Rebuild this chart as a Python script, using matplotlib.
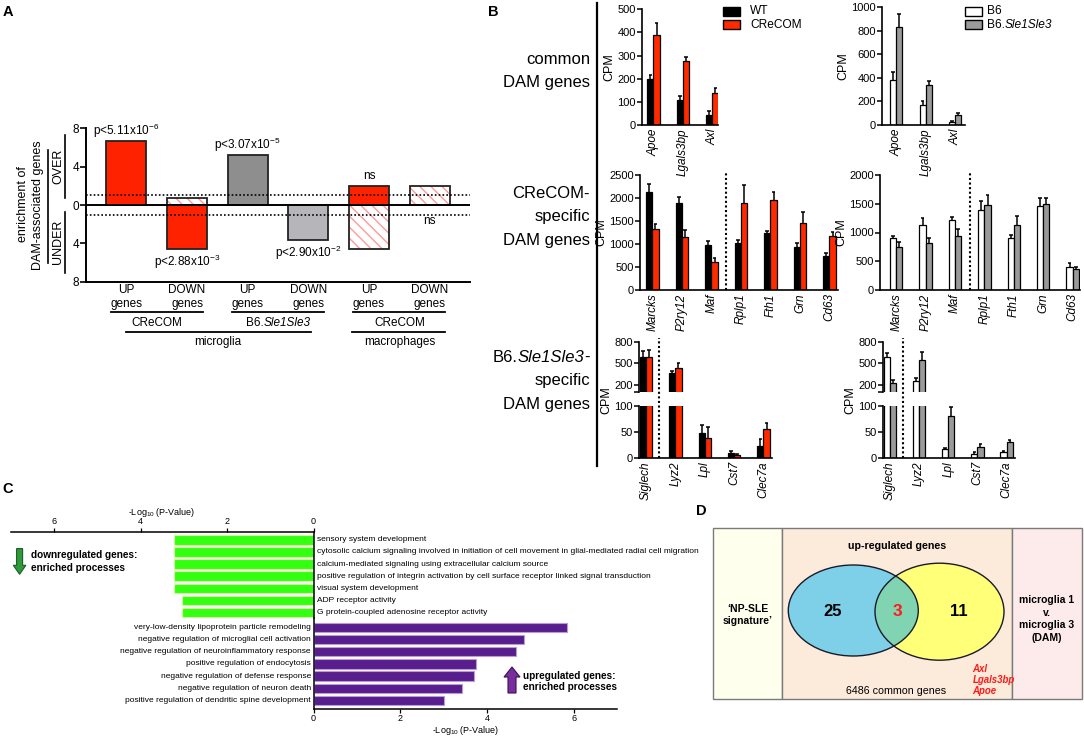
import numpy as np
import matplotlib
matplotlib.use('Agg')
import matplotlib.pyplot as plt
from matplotlib.patches import Rectangle, Ellipse, FancyArrow

plt.rcParams['font.family'] = ['Liberation Sans', 'DejaVu Sans']
plt.rcParams['mathtext.fontset'] = 'custom'
plt.rcParams['mathtext.rm'] = 'Liberation Sans'
plt.rcParams['mathtext.it'] = 'Liberation Sans:italic'
plt.rcParams['mathtext.bf'] = 'Liberation Sans:bold'
plt.rcParams['hatch.linewidth'] = 1.0
plt.rcParams['axes.facecolor'] = 'none'

# ---------------- DATA ----------------
# Panel A
cats_A = ['UP', 'DOWN', 'UP', 'DOWN', 'UP', 'DOWN']
over_A = [6.7, 0.7, 5.2, 0.0, 2.0, 2.0]
under_A = [0.0, 4.6, 0.0, 3.65, 4.6, 0.0]
over_fill_A = ['red', 'hatch', 'dark', None, 'red', 'hatch']
under_fill_A = [None, 'red', None, 'light', 'hatch', None]
pvals_A = ['p<5.11x10$^{-6}$', 'p<2.88x10$^{-3}$', 'p<3.07x10$^{-5}$',
           'p<2.90x10$^{-2}$', 'ns', 'ns']
p_side_A = ['over', 'under', 'over', 'under', 'over', 'under']
strain_A = [[('CReCOM', 'normal')],
            [('B6.', 'normal'), ('Sle1Sle3', 'italic')],
            [('CReCOM', 'normal')]]
cell_A = ['microglia', 'macrophages']
threshold_A = 1.0
yticks_A = [-8, -4, 0, 4, 8]

# Panel B
series_left = [[('WT', 'normal')], [('CReCOM', 'normal')]]
series_right = [[('B6', 'normal')], [('B6.', 'normal'), ('Sle1Sle3', 'italic')]]

genes_common = ['Apoe', 'Lgals3bp', 'Axl']
wt_common = [200, 108, 43]
wt_common_err = [15, 17, 18]
cr_common = [387, 276, 140]
cr_common_err = [52, 20, 18]
b6_common = [382, 170, 25]
b6_common_err = [70, 30, 6]
sle_common = [830, 340, 82]
sle_common_err = [110, 35, 18]

genes_cre = ['Marcks', 'P2ry12', 'Maf', 'Rplp1', 'Fth1', 'Grn', 'Cd63']
wt_cre = [2123, 1898, 978, 1029, 1239, 942, 746]
wt_cre_err = [175, 124, 80, 58, 50, 87, 51]
cr_cre = [1326, 1159, 601, 1898, 1964, 1456, 1170]
cr_cre_err = [116, 150, 95, 384, 174, 246, 90]
b6_cre = [896, 1127, 1225, 1387, 896, 1457, 405]
b6_cre_err = [36, 127, 47, 156, 58, 144, 69]
sle_cre = [751, 809, 936, 1474, 1139, 1503, 364]
sle_cre_err = [87, 87, 122, 185, 144, 98, 29]

genes_sle = ['Siglech', 'Lyz2', 'Lpl', 'Cst7', 'Clec7a']
wt_sle = [592, 362, 47, 8.5, 23]
wt_sle_err = [85, 32, 16, 5, 13]
cr_sle = [584, 440, 38, 6, 55]
cr_sle_err = [105, 65, 22, 2, 11]
b6_sle = [592, 260, 16, 8, 11]
b6_sle_err = [55, 33, 3, 3, 1]
sle_sle = [232, 550, 81, 20, 30]
sle_sle_err = [37, 106, 17, 6, 5]

row_labels_B = [[[('common', 'normal')], [('DAM genes', 'normal')]],
                [[('CReCOM-', 'normal')], [('specific', 'normal')], [('DAM genes', 'normal')]],
                [[('B6.', 'normal'), ('Sle1Sle3', 'italic'), ('-', 'normal')],
                 [('specific', 'normal')], [('DAM genes', 'normal')]]]

# Panel C
down_terms = ['sensory system development',
              'cytosolic calcium signaling involved in initiation of cell movement in glial-mediated radial cell migration',
              'calcium-mediated signaling using extracellular calcium source',
              'positive regulation of integrin activation by cell surface receptor linked signal transduction',
              'visual system development',
              'ADP receptor activity',
              'G protein-coupled adenosine receptor activity']
down_vals = [3.22, 3.22, 3.22, 3.22, 3.22, 3.05, 3.05]
up_terms = ['very-low-density lipoprotein particle remodeling',
            'negative regulation of microglial cell activation',
            'negative regulation of neuroinflammatory response',
            'positive regulation of endocytosis',
            'negative regulation of defense response',
            'negative regulation of neuron death',
            'positive regulation of dendritic spine development']
up_vals = [5.85, 4.85, 4.68, 3.74, 3.71, 3.42, 3.02]

# Panel D
venn_counts = [25, 3, 11]
shared_genes = ['Axl', 'Lgals3bp', 'Apoe']
common_total = 6486

# ---------------- FIGURE ----------------
W, H = 1084, 738
fig = plt.figure(figsize=(W / 100, H / 100), dpi=100)
fig.patch.set_facecolor('white')
renderer = fig.canvas.get_renderer()


def axpx(x0, y0, x1, y1):
    return fig.add_axes([x0 / W, 1 - y1 / H, (x1 - x0) / W, (y1 - y0) / H])


RED_A = '#FF2200'
RED = '#FF2A00'
GREY = '#9A9A9A'
HATCH_RED = '#FF9A9A'

# ---------------- Panel A ----------------
axA = axpx(86, 128.3, 470, 281.7)
xA = np.arange(len(cats_A))
wA = 0.66
fills = {'red': RED_A, 'dark': '#8E8E8E', 'light': '#B6B6BA'}


def barA(i, v, style):
    if style == 'hatch':
        axA.bar(i, v, wA, color='white', edgecolor=HATCH_RED, hatch='\\\\\\', lw=0, zorder=2)
        axA.bar(i, v, wA, fill=False, edgecolor='#222222', lw=1.3, zorder=3)
    else:
        axA.bar(i, v, wA, color=fills[style], edgecolor='#222222', lw=1.3, zorder=2)


for i in xA:
    if over_A[i] > 0:
        barA(i, over_A[i], over_fill_A[i])
    if under_A[i] > 0:
        barA(i, -under_A[i], under_fill_A[i])
    if p_side_A[i] == 'over':
        axA.annotate(pvals_A[i], (i, over_A[i]), xytext=(0, 10), textcoords='offset pixels',
                     ha='center', va='center', fontsize=8.5)
    else:
        off = -13 if under_A[i] > 0 else -16
        axA.annotate(pvals_A[i], (i, -under_A[i]), xytext=(0, off), textcoords='offset pixels',
                     ha='center', va='center', fontsize=8.5)

axA.axhline(0, color='k', lw=1.4, zorder=4)
axA.axhline(threshold_A, color='k', lw=1.2, ls=(0, (1, 1.3)), zorder=4)
axA.axhline(-threshold_A, color='k', lw=1.2, ls=(0, (1, 1.3)), zorder=4)
axA.set_ylim(-8, 8)
axA.set_xlim(-0.665, 5.665)
axA.set_yticks(yticks_A)
axA.set_yticklabels([str(abs(t)) for t in yticks_A])
axA.set_xticks([])
for s in ['top', 'right']:
    axA.spines[s].set_visible(False)
for s in ['left', 'bottom']:
    axA.spines[s].set_linewidth(1.4)
axA.tick_params(axis='y', length=4, width=1.2, labelsize=8.5, pad=1)

# ---------------- overlay ----------------
ov = fig.add_axes([0, 0, 1, 1])
ov.set_xlim(0, W)
ov.set_ylim(H, 0)
ov.axis('off')
ov.set_zorder(10)


def rich(x, y, parts, ha='left', **kw):
    texts = [ov.text(0, y, s, ha='left', va='center', style=st, **kw) for s, st in parts]
    widths = [t.get_window_extent(renderer).width for t in texts]
    total = sum(widths)
    if ha == 'center':
        x0 = x - total / 2
    elif ha == 'right':
        x0 = x - total
    else:
        x0 = x
    for t, w in zip(texts, widths):
        t.set_x(x0)
        x0 += w


def pxA(xd):
    return axA.transData.transform((xd, 0))[0]


for i, c in enumerate(cats_A):
    ov.text(pxA(i), 290, c, ha='center', va='center', fontsize=8.5)
    ov.text(pxA(i), 304, 'genes', ha='center', va='center', fontsize=8.5)
for k in range(3):
    i0, i1 = 2 * k, 2 * k + 1
    ov.plot([pxA(i0 - 0.26), pxA(i1 + 0.26)], [312, 312], color='k', lw=1.3)
    rich(pxA((i0 + i1) / 2), 323, strain_A[k], ha='center', fontsize=8.5)
ov.plot([pxA(-0.01), pxA(3.04)], [332, 332], color='k', lw=1.3)
ov.plot([pxA(3.72), pxA(5.26)], [332, 332], color='k', lw=1.3)
ov.text(pxA(1.5), 342, cell_A[0], ha='center', va='center', fontsize=8.5)
ov.text(pxA(4.5), 342, cell_A[1], ha='center', va='center', fontsize=8.5)

ov.text(23.3, 204, 'enrichment of', rotation=90, ha='center', va='center', fontsize=9)
ov.text(37.7, 205, 'DAM-associated genes', rotation=90, ha='center', va='center', fontsize=9)
ov.plot([48, 48], [150, 263], color='k', lw=1.2)
ov.text(58.3, 166.7, 'OVER', rotation=90, ha='center', va='center', fontsize=9)
ov.plot([65, 65], [135, 198], color='k', lw=1.2)
ov.text(58.3, 241.7, 'UNDER', rotation=90, ha='center', va='center', fontsize=9)
ov.plot([65, 65], [212, 273], color='k', lw=1.2)

# panel letters
for (x, y, t) in [(8, 12, 'A'), (493, 12, 'B'), (8, 489, 'C'), (701, 511, 'D')]:
    ov.text(x, y, t, fontsize=10.5, weight='bold', ha='center', va='center')

# ---------------- Panel B ----------------
ov.plot([597, 597], [3, 466], color='k', lw=1.6)
row_y = [[60, 83], [193, 217, 241], [357, 381, 405]]
for ys, lines in zip(row_y, row_labels_B):
    for y, parts in zip(ys, lines):
        rich(590, y, parts, ha='right', fontsize=12)

BW = 0.21


def style_b(ax):
    for s in ['top', 'right']:
        ax.spines[s].set_visible(False)
    for s in ['left', 'bottom']:
        ax.spines[s].set_linewidth(1.2)
    ax.tick_params(axis='y', direction='out', length=3.5, width=1.1, labelsize=8, pad=1)
    ax.tick_params(axis='x', length=0, pad=2.5)


def draw_bars(ax, v1, e1, v2, e2, c1, c2, lo=0):
    x = np.arange(len(v1))
    for xs, v, e, c in ((x - BW / 2, v1, e1, c1), (x + BW / 2, v2, e2, c2)):
        v = np.asarray(v, float)
        ax.bar(xs, v, BW, color=c, edgecolor='k', lw=0.9, zorder=2)
        top = v + np.asarray(e, float)
        keep = top >= lo
        ax.vlines(xs[keep], np.maximum(v[keep], lo), top[keep], color='k', lw=1.1, zorder=3)
        ax.hlines(top[keep], xs[keep] - BW * 0.3, xs[keep] + BW * 0.3, color='k', lw=1.1, zorder=3)


def xlabels(ax, genes):
    ax.set_xticks(np.arange(len(genes)))
    ax.set_xticklabels(genes, rotation=90, style='italic', fontsize=8.5)


def simple_panel(box, genes, v1, e1, v2, e2, c1, c2, xlim, ylim, yticks, div=None):
    ax = axpx(*box)
    draw_bars(ax, v1, e1, v2, e2, c1, c2)
    ax.set_xlim(*xlim)
    ax.set_ylim(*ylim)
    ax.set_yticks(yticks)
    xlabels(ax, genes)
    style_b(ax)
    ax.set_ylabel('CPM', fontsize=9, labelpad=1.5)
    if div is not None:
        ax.axvline(div, ymin=0, ymax=1.03, color='k', lw=1.5, ls=(0, (1, 1.2)), clip_on=False)
    return ax


def broken_panel(x0, x1, genes, v1, e1, v2, e2, c1, c2, xlim, div, cpm_x):
    axu = axpx(x0, 341.7, x1, 392.3)
    axl = axpx(x0, 405.7, x1, 457.7)
    for ax, lim in ((axu, (100, 800)), (axl, (0, 100))):
        draw_bars(ax, v1, e1, v2, e2, c1, c2, lo=lim[0])
        ax.set_xlim(*xlim)
        ax.set_ylim(*lim)
        style_b(ax)
    axu.spines['bottom'].set_visible(False)
    axu.set_xticks([])
    axu.set_yticks([100, 200, 500, 800])
    axu.set_yticklabels(['', '200', '500', '800'])
    axl.set_yticks([0, 50, 100])
    xlabels(axl, genes)
    axl.axvline(div, ymin=0, ymax=(457.7 - 338) / 52.0, color='k', lw=1.5,
                ls=(0, (1, 1.2)), clip_on=False)
    ov.text(cpm_x, 400, 'CPM', rotation=90, ha='center', va='center', fontsize=9)


simple_panel((642, 9.3, 718, 125), genes_common, wt_common, wt_common_err, cr_common, cr_common_err,
             'k', RED, (-0.39, 2.19), (0, 500), [0, 100, 200, 300, 400, 500])
simple_panel((882, 7.3, 965, 125), genes_common, b6_common, b6_common_err, sle_common, sle_common_err,
             'white', GREY, (-0.48, 2.33), (0, 1000), [0, 200, 400, 600, 800, 1000])
simple_panel((640, 175, 838, 290), genes_cre, wt_cre, wt_cre_err, cr_cre, cr_cre_err,
             'k', RED, (-0.42, 6.29), (0, 2500), [0, 500, 1000, 1500, 2000, 2500], div=2.5)
simple_panel((880, 175, 1080, 290), genes_cre, b6_cre, b6_cre_err, sle_cre, sle_cre_err,
             'white', GREY, (-0.55, 6.25), (0, 2000), [0, 500, 1000, 1500, 2000], div=2.5)
broken_panel(639.3, 772, genes_sle, wt_sle, wt_sle_err, cr_sle, cr_sle_err, 'k', RED,
             (-0.23, 4.29), 0.45, 606.7)
broken_panel(883.3, 1015, genes_sle, b6_sle, b6_sle_err, sle_sle, sle_sle_err, 'white', GREY,
             (-0.23, 4.29), 0.45, 850)

# legends
for (bx, tx, cols, names) in [(723, 750, ['k', RED], series_left),
                              (965, 987, ['white', GREY], series_right)]:
    for j, (c, n) in enumerate(zip(cols, names)):
        y0 = 6.8 + j * 13.6
        ov.add_patch(Rectangle((bx, y0), 17, 8.8, fc=c, ec='k', lw=1.0))
        rich(tx, y0 + 4.6, n, ha='left', fontsize=8.6)

# ---------------- Panel C ----------------
axCd = axpx(10.7, 532, 313.6, 618)
yd = np.arange(len(down_vals))
axCd.barh(yd, down_vals, height=0.78, color='#33FF11', edgecolor='#D4FF9A', lw=0.8)
axCd.set_xlim(7, 0)
axCd.set_ylim(6.46, -0.645)
for s in ['left', 'bottom']:
    axCd.spines[s].set_visible(False)
axCd.spines['top'].set_linewidth(1.1)
axCd.spines['right'].set_linewidth(1.1)
axCd.xaxis.tick_top()
axCd.set_xticks([0, 2, 4, 6])
axCd.set_yticks([])
axCd.tick_params(axis='x', length=3, width=0.9, labelsize=6.5, pad=1)
axCd.xaxis.set_label_position('top')
axCd.set_xlabel('-Log$_{10}$ (P-Value)', fontsize=6.5, labelpad=2)
for i, t in enumerate(down_terms):
    axCd.text(-0.07, i, t, ha='left', va='center', fontsize=6.0, clip_on=False)

axCu = axpx(313.6, 618, 617, 709)
yu = np.arange(len(up_vals))
axCu.barh(yu, up_vals, height=0.78, color='#581E8E', edgecolor='#B79AD6', lw=0.8)
axCu.set_xlim(0, 7)
axCu.set_ylim(6.7, -0.76)
for s in ['top', 'right']:
    axCu.spines[s].set_visible(False)
axCu.spines['left'].set_linewidth(1.1)
axCu.spines['bottom'].set_linewidth(1.1)
axCu.set_xticks([0, 2, 4, 6])
axCu.set_yticks([])
axCu.tick_params(axis='x', length=3, width=0.9, labelsize=6.5, pad=0.5)
axCu.set_xlabel('-Log$_{10}$ (P-Value)', fontsize=6.5, labelpad=0.5)
for i, t in enumerate(up_terms):
    axCu.text(-0.06, i, t, ha='right', va='center', fontsize=6.0, clip_on=False)

ov.add_patch(FancyArrow(19.6, 548.6, 0, 25.7, width=6, head_width=12.5, head_length=9,
                        length_includes_head=True, fc='#2E9B3A', ec='#1B5A22', lw=0.8))
ov.text(31, 555.5, 'downregulated genes:', ha='left', va='center', fontsize=7.2, weight='bold')
ov.text(31, 568, 'enriched processes', ha='left', va='center', fontsize=7.2, weight='bold')
ov.add_patch(FancyArrow(512, 693, 0, -26, width=8, head_width=16, head_length=10,
                        length_includes_head=True, fc='#7A2E9E', ec='#3A1050', lw=0.8))
ov.text(522.7, 675.7, 'upregulated genes:', ha='left', va='center', fontsize=7.2, weight='bold')
ov.text(522.7, 687.5, 'enriched processes', ha='left', va='center', fontsize=7.2, weight='bold')

# ---------------- Panel D ----------------
top, bot = 528.3, 699.3
ov.add_patch(Rectangle((712.7, top), 781.7 - 712.7, bot - top, fc='#FFFFEE', ec='#7A7A7A', lw=1.0))
ov.add_patch(Rectangle((781.7, top), 1012.3 - 781.7, bot - top, fc='#FCEADA', ec='#7A7A7A', lw=1.0))
ov.add_patch(Rectangle((1012.3, top), 1081.7 - 1012.3, bot - top, fc='#FDEBEB', ec='#7A7A7A', lw=1.0))

blue_c, blue_wh = (853.3, 610.5), (130, 91)
yel_c, yel_wh = (939.5, 611.7), (129, 97)
blue = Ellipse(blue_c, *blue_wh, fc='#7ECFE8', ec='none')
yellow = Ellipse(yel_c, *yel_wh, fc='#FFFF78', ec='none')
ov.add_patch(blue)
ov.add_patch(yellow)
inter = Ellipse(yel_c, *yel_wh, fc='#80D4B2', ec='none')
ov.add_patch(inter)
inter.set_clip_path(blue)
ov.add_patch(Ellipse(blue_c, *blue_wh, fill=False, ec='#1A1A2A', lw=1.0))
ov.add_patch(Ellipse(yel_c, *yel_wh, fill=False, ec='#1A1A2A', lw=1.0))

ov.text(896.7, 546, 'up-regulated genes', ha='center', va='center', fontsize=7.7, weight='bold')
ov.text(832.7, 611.7, str(venn_counts[0]), ha='center', va='center', fontsize=12, weight='bold')
ov.text(897.3, 611.7, str(venn_counts[1]), ha='center', va='center', fontsize=12.5, weight='bold',
        color='#FF1A1A')
ov.text(959.3, 611.7, str(venn_counts[2]), ha='center', va='center', fontsize=12, weight='bold')
ov.text(896, 691, f'{common_total} common genes', ha='center', va='center', fontsize=7.7)
for j, g in enumerate(shared_genes):
    ov.text(972.7, 669 + j * 11, g, ha='left', va='center', fontsize=6.9, weight='bold',
            style='italic', color='#FF1A1A')
ov.text(747.7, 608.5, '\u2018NP-SLE', ha='center', va='center', fontsize=7.5, weight='bold')
ov.text(747.7, 620.5, 'signature\u2019', ha='center', va='center', fontsize=7.5, weight='bold')
for j, t in enumerate(['microglia 1', 'v.', 'microglia 3', '(DAM)']):
    ov.text(1046.7, 600 + j * 12.7, t, ha='center', va='center', fontsize=7.5, weight='bold')

fig.savefig('out.png', dpi=100, facecolor='white')
